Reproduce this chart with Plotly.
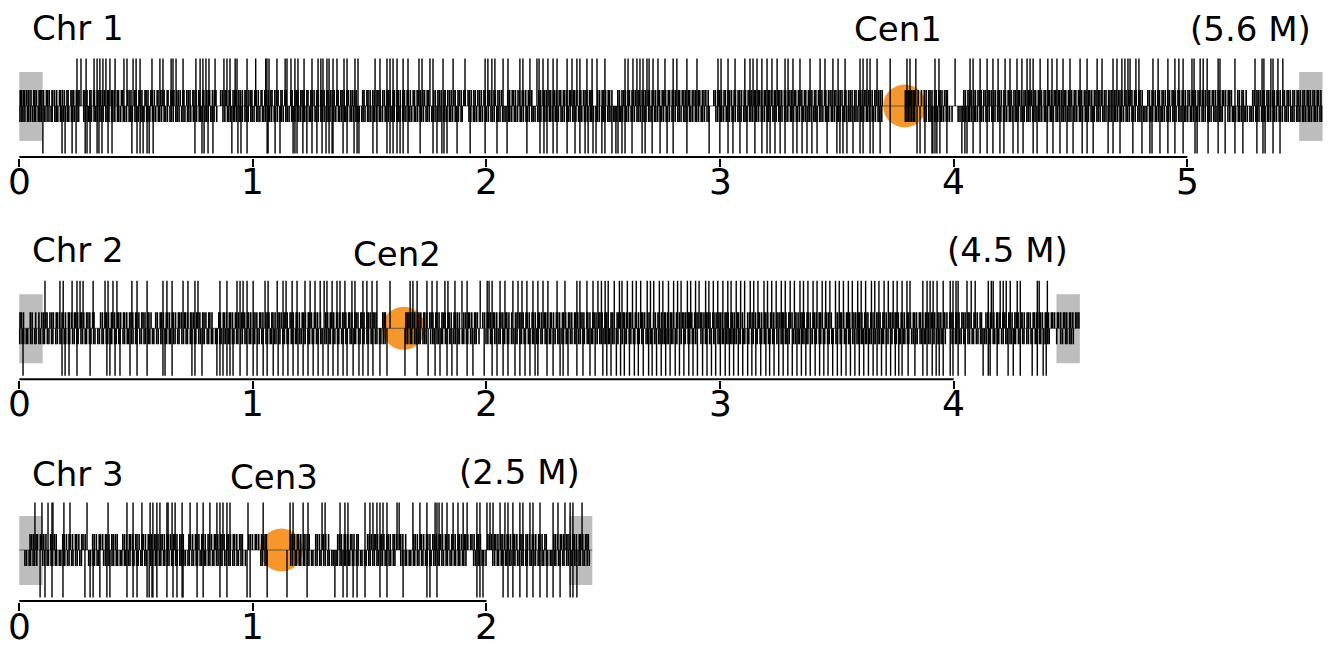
import plotly.graph_objects as go

# ---------------- data (positions in kb) ----------------
chrom_names = ["Chr 1", "Chr 2", "Chr 3"]
chrom_len_kb = [5579, 4540, 2453]
size_labels = ["(5.6 M)", "(4.5 M)", "(2.5 M)"]
cen_names = ["Cen1", "Cen2", "Cen3"]
cen_kb = [3790, 1645, 1122]
telomere_kb = 100
tick_vals = [[0, 1, 2, 3, 4, 5], [0, 1, 2, 3, 4], [0, 1, 2]]
tick_text = [["0", "1", "2", "3", "4", "5"], ["0", "1", "2", "3", "4"], ["0", "1", "2"]]

chr1_top_long = [247,264,286,320,333,345,358,371,388,410,448,461,487,500,517,568,602,615,650,658,671,701,756,774,786,799,812,838,876,889,902,924,932,975,1012,1055,1060,1069,1103,1138,1146,1163,1180,1193,
1219,1253,1279,1291,1300,1317,1326,1343,1360,1390,1403,1437,1450,1523,1544,1574,1587,1600,1617,1643,1664,1711,1724,1758,1771,1814,1857,1908,1994,2006,2023,2036,2071,2092,2143,2156,2186,2216,2225,2242,2263,2285,2302,2345,2366,2387,2400,2430,
2452,2473,2507,2593,2606,2627,2644,2657,2670,2687,2696,2713,2734,2764,2799,2815,2858,2901,2991,3004,3034,3064,3106,3128,3141,3158,3179,3201,3222,3244,3278,3291,3312,3342,3385,3428,3449,3483,3505,3535,3599,3612,3629,3642,3672,
3728,3800,3813,3838,3920,3937,4006,4070,4083,4113,4143,4168,4190,4220,4241,4271,4292,4314,4327,4340,4370,4403,4421,4442,4468,4498,4541,4571,4614,
4635,4682,4699,4720,4733,4746,4755,4780,4793,4853,4875,4917,4947,4964,4982,5020,5029,5055,5068,5085,5132,5140,5204,5290,5320,5328,5358,5367,5388,5409]

chr1_bot_long = [101,183,196,226,243,282,290,303,333,341,354,380,397,482,504,517,530,547,556,573,752,782,791,808,829,910,936,949,975,1061,1065,1095,1116,1172,1180,
1189,1214,1231,1253,1274,1296,1313,1326,1339,1343,1386,1403,1433,1446,1454,1514,1531,1574,1587,1600,1617,1630,1643,1664,1716,1771,1788,1809,1818,1831,1874,1930,1994,2045,2088,2173,2229,2246,2259,2285,2302,2345,2379,2400,2422,
2435,2456,2469,2494,2507,2537,2554,2563,2580,2593,2623,2666,2679,2709,2743,2773,2799,2858,2953,2999,3034,3055,3085,3115,3149,3179,3201,3214,3235,3257,3278,3312,3329,3351,3372,3393,3415,3458,3500,3513,3526,3543,3569,3599,3612,3642,3655,
3685,3728,3843,3856,3877,3907,3911,3920,3928,3941,3971,4035,4048,4057,4083,4113,4143,4168,4198,4215,4254,4275,4297,4340,4357,4400,4425,4455,4485,4511,4550,4571,4597,
4661,4682,4712,4767,4806,4840,4849,4883,4917,4947,4982,5033,5042,5089,5132,5162,5204,5238,5298,5324,5333,5367,5397]

chr1_top_short = [4,9,17,21,30,38,41,50,62,66,73,85,90,97,104,116,121,128,140,143,151,160,172,177,185,193,204,209,221,226,233,244,251,256,
275,281,290,302,307,318,322,334,341,349,357,366,378,383,395,400,407,419,425,437,443,
463,470,478,494,500,512,517,525,538,543,551,563,569,578,590,594,606,613,620,633,637,649,655,662,674,681,689,700,705,717,724,731,743,748,757,768,773,785,790,802,809,815,827,835,842,
862,870,881,886,898,903,915,922,928,940,947,955,966,971,983,991,996,1008,1014,1023,1035,1039,1051,1057,1066,1077,1082,1094,1101,1108,1120,1125,1137,1143,
1162,1168,1180,1187,1193,1205,1211,1219,1231,1236,1248,1254,1262,1273,1279,1290,1296,1305,1316,1322,1333,1340,1348,1359,1365,1376,1382,1391,1402,1409,1419,1426,1434,1442,
1470,1476,1488,1493,1502,1513,1520,1531,1536,1545,1556,1563,1574,1580,1588,1600,1606,1617,1622,1631,1642,1649,1660,1665,1674,1686,1692,1703,1709,1717,1728,1735,1746,1752,
1774,1781,1792,1798,1806,1818,1823,1834,1841,1849,1860,1866,1878,1884,1892,1903,1909,1921,1927,1935,1946,1952,1963,1970,1978,1989,1995,2006,2013,2021,2032,2038,2049,2056,2065,
2091,2099,2110,2116,2124,2135,2142,2153,2159,2168,2179,2185,2194,
2224,2232,2243,2249,2257,2268,2275,2286,2292,2300,2311,2318,2329,2335,2344,2355,2361,2372,2378,2387,2398,2404,2415,2422,2430,2441,2447,2453,
2476,2484,2495,2501,2510,2521,2527,2537,
2562,2569,2580,2587,2595,2606,2612,2623,2630,2638,2649,2655,2666,2673,2681,2692,2698,2709,2716,2724,2735,2741,2752,2759,2767,2778,2784,2795,2802,2810,2821,2827,2838,2845,2853,2864,2870,2881,2888,2896,2907,2913,2924,2931,2939,2949,
2973,2980,2991,2998,3006,3017,3023,3034,3041,3049,3060,3066,3077,3084,3092,3103,3109,3120,3127,3135,3146,3152,3163,3170,3178,3189,3195,3206,3213,3221,3232,3238,3249,3256,3264,3275,3281,3292,3299,3307,3318,3324,3335,3342,3350,3361,3367,3378,3385,3393,3404,3410,3421,3428,3436,3447,3453,3464,3471,3479,3490,3496,3507,3514,3522,3533,3539,3550,3557,3565,3576,3582,3593,3600,3608,3619,3625,3636,3643,3651,3662,3668,3679,3686,3694,
3793,3799,3806,3812,3819,3826,3832,3848,3862,3874,3882,3893,3899,3907,3918,3925,3936,3942,3950,3961,3968,3973,
4043,4050,4061,4067,4075,4086,4093,4104,4110,4118,4129,4136,4147,4153,4161,4172,4179,4190,4196,4204,4215,4222,4233,4239,4247,4258,4265,4276,4282,4290,4301,4308,4319,4325,4333,4344,4351,4362,4368,4376,4387,4394,4405,4411,4419,4430,4437,4448,4454,4462,4473,4480,4491,4497,4505,4516,4523,4534,4540,4548,4559,4566,4577,4583,4591,4602,4609,4620,4626,4634,4645,4652,4663,4669,4677,4688,4695,4706,4712,4720,4731,4738,4749,4755,4763,4774,4781,4792,4798,4807,
4831,4838,4849,4855,4863,4874,4881,4892,4898,4906,4917,4924,4935,4941,4949,4960,4967,4978,4984,4992,5003,5010,5021,5027,5035,5046,5053,5064,5070,5078,5089,5096,5107,5113,5121,5132,5139,5150,5156,5164,5175,5182,5189,
5216,5223,5234,5240,5252,
5280,5287,5298,5304,5312,5323,5330,5341,5347,5355,5366,5373,5384,5390,5398,5409,5416,5427,5433,5441,5452,5459,5470,5476,5484,5495,5502,5513,5519,5527,5538,5545,5556,5562,5572]

chr1_bot_short = [3,11,16,24,35,40,48,57,65,70,81,88,94,106,110,119,127,136,141,152,158,165,176,180,189,198,206,212,223,229,236,247,254,
276,284,295,301,309,320,326,334,345,351,359,370,376,384,395,401,409,420,426,434,445,451,459,470,476,484,495,501,509,520,526,534,545,551,559,570,576,584,595,601,609,620,626,634,645,651,659,670,676,684,695,701,709,720,726,734,745,751,759,770,776,784,795,801,809,820,826,834,845,
872,880,891,897,905,916,922,930,941,947,955,966,972,980,991,997,1005,1016,1022,1030,1041,1047,1055,1066,1072,1080,1091,1097,1105,1116,1122,1130,1141,1147,1155,1166,1172,1180,1191,1197,1205,1216,1222,1230,1241,1247,1255,1266,1272,1280,1291,1297,1305,1316,1322,1330,1341,1347,1355,1366,1372,1380,1391,1397,1405,1416,1422,1430,1441,1447,1455,1466,1472,1480,1491,1497,1505,1516,1522,1530,1541,1547,1555,1566,1572,1580,1591,1597,1605,1616,1622,1630,1641,1647,1655,1666,1672,1680,1691,1697,1705,1716,1722,1730,1741,1747,1755,1766,1772,1780,1791,1797,1805,1816,1822,1830,1841,1847,1855,1866,1872,1880,1891,1896,
1925,1933,1944,1950,1958,1969,1975,1983,1994,2000,2008,2019,2025,2033,2044,2050,2058,2069,2075,2083,2094,2100,2108,2119,2125,2133,2144,2150,2158,2169,2175,2183,2194,2200,2208,2219,2225,2233,2244,2250,2258,2269,2275,2283,2294,2300,2308,2319,2325,2333,2344,2350,2358,2369,2375,2383,2394,2400,2408,2419,2425,2433,2444,2450,2458,2469,2475,2483,2494,2500,2508,2519,2525,2533,2544,2550,2558,2569,2575,2583,2594,2600,2608,2619,2625,2633,2644,2650,2658,2669,2675,2683,2694,2700,2708,2719,2725,2733,2744,2750,2758,2769,2775,2783,2794,2800,2808,2819,2825,2833,2844,2850,2858,2869,2875,2883,2894,2900,2908,2919,2925,2933,2944,2952,
2982,2990,3001,3007,3015,3026,3032,3040,3051,3057,3065,3076,3082,3090,3101,3107,3115,3126,3132,3140,3151,3157,3165,3176,3182,3190,3201,3207,3215,3226,3232,3240,3251,3257,3265,3276,3282,3290,3301,3307,3315,3326,3332,3340,3351,3357,3365,3376,3382,3390,3401,3407,3415,3426,3432,3440,3451,3457,3465,3476,3482,3490,3501,3507,3515,3526,3532,3540,3551,3557,3565,3576,3582,3590,3601,3607,3615,3626,3632,3640,3651,3657,3665,3676,3682,3692,
3793,3800,3806,3813,3820,3827,3833,3874,3882,3893,3899,3907,3918,3924,3932,3943,3949,3957,3968,3974,3982,3993,
4019,4027,4038,4044,4052,4063,4069,4077,4088,4094,4102,4113,4119,4127,4138,4144,4152,4163,4169,4177,4188,4194,4202,4213,4219,4227,4238,4244,4252,4263,4269,4277,4288,4294,4302,4313,4319,4327,4338,4344,4352,4363,4369,4377,4388,4394,4402,4413,4419,4427,4438,4444,4452,4463,4469,4477,4488,4494,4502,4513,4519,4527,4538,4544,4552,4563,4569,4577,4588,4594,4602,4613,4619,4627,4638,4644,4652,4663,4669,4677,4688,4694,4702,4713,4719,4727,4738,4744,4752,4763,4769,4777,4788,4794,4802,4813,4819,4827,4838,4844,4852,4863,4869,4877,4888,4894,4902,4913,4919,4927,4938,4944,4952,4963,4969,4977,4988,4994,5002,5013,5019,5027,5038,5044,5052,5063,5069,5077,5088,5094,5102,5113,5119,5127,5138,5144,5150,
5174,5182,5193,5199,5207,5218,5224,5232,5243,5249,5257,5268,5274,5282,5293,5299,5307,5318,5324,5332,5343,5349,5357,5368,5374,5382,5393,5399,5407,5418,5424,5432,5443,5449,5457,5468,5474,5482,5493,5499,5507,5518,5524,5532,5543,5549,5557,5568,5575]

chr2_top_long = [110,174,188,226,247,260,273,316,367,380,401,418,482,504,547,615,632,654,701,722,752,765,859,889,932,945,958,975,1001,1052,1065,1104,1129,1142,1168,1189,
1223,1245,1266,1288,1305,1317,1339,1360,1373,1394,1424,1437,1471,1488,1510,1531,1587,1673,1685,1703,1745,1767,1788,1822,1835,1865,1895,1917,1973,2003,2011,2024,2058,2079,2113,2135,2152,2173,2199,2220,2242,2263,2302,2336,2387,2400,2430,2456,2477,
2492,2508,2521,2547,2569,2580,2603,2625,2641,2660,2688,2702,2716,2740,2755,2779,2801,2818,2833,2860,2874,2895,2910,2938,2952,2971,2990,3012,3033,3047,3069,3088,3105,3129,3144,3162,3188,3203,3221,3240,3262,3279,3300,3318,3342,3357,3376,3398,3415,3437,3452,3470,3494,3510,3528,3549,3566,3589,3604,3623,3648,3662,3680,3702,3720,3741,3758,
3779,3800,3813,3868,3886,3899,3912,3929,3955,3985,3997,4010,4019,4057,4075,4092,4148,4161,4169,4199,4212,4225,4242,4272,4285,4358,4366,4401]

chr2_bot_long = [16,183,196,213,247,303,375,388,410,431,474,504,547,615,624,654,739,752,782,846,859,872,889,902,915,945,975,1001,1018,1044,1061,1087,1108,1129,1150,1172,1193,
1215,1236,1258,1279,1300,1322,1343,1364,1386,1403,1429,1454,1471,1493,1514,1544,1574,1651,1703,1750,1780,1801,1831,1852,1874,1917,1942,1990,2024,2045,2071,2092,2122,2143,2165,2186,2208,2220,2259,2285,2315,2328,2349,2387,2413,2443,2465,
2498,2515,2533,2556,2574,2590,2612,2633,2650,2671,2694,2709,2728,2748,2767,2786,2808,2826,2845,2866,2884,2903,2925,2944,2963,2981,3001,3022,3040,3058,3078,3097,3118,3136,3153,3174,3196,3212,3231,3251,3270,3290,3309,3329,3348,3367,3386,3407,3426,3444,3462,3482,3502,3519,3539,3558,3577,3596,3615,3635,3655,3672,3691,3711,3730,3750,3765,
3779,3805,3834,3868,3886,3908,3925,3938,3955,3985,3997,4019,4049,4126,4148,4156,4186,4233,4255,4285,4336,4358,4383,4396]

chr2_top_short = [3,9,18,47,55,70,84,96,104,113,119,131,139,146,158,163,172,183,189,198,210,215,224,236,242,250,262,267,276,288,294,302,314,320,
348,356,367,373,382,394,399,408,420,426,434,446,451,460,472,478,486,498,503,512,524,530,538,550,555,564,
584,591,603,608,617,629,635,643,655,660,669,681,687,695,707,712,721,733,739,747,759,764,773,785,791,799,811,816,825,
854,861,873,878,887,899,905,913,925,930,939,951,957,965,977,982,991,1003,1009,1017,1029,1034,1043,1055,1061,1069,1081,1086,1095,1107,1113,1121,1133,1138,1147,1159,1165,1173,1185,1190,1199,1211,1217,1225,1237,1242,1251,1263,1269,1277,1289,
1312,1320,1331,1337,1346,1358,1363,1372,1384,1390,1398,1410,1415,1424,1436,1442,1450,1462,1467,1476,1488,1494,1502,1514,1519,1527,
1556,1562,1567,1655,1661,1668,1676,1684,1693,1705,1711,1719,1731,1736,1745,1757,1763,1771,1783,1788,1797,1809,1815,1823,1835,1840,1849,1861,1867,1875,1884,
1903,1911,1922,1928,1937,1949,1954,1961,
1984,1992,2003,2009,2018,2030,2035,2044,2056,2062,2070,2082,2087,2096,2108,
2124,2131,2142,2148,2157,2169,2174,2183,2195,2201,2209,2221,2226,2235,2247,2253,2261,2273,2278,2287,2299,2305,2313,2325,2330,2339,2351,2357,2365,2377,2382,2391,2403,2409,2417,2429,2434,2443,2455,2461,2469,2481,2486,2495,2507,2513,2521,2533,2538,2547,2559,2565,2573,2585,2590,2599,2611,2617,2625,2637,2642,2651,2663,2669,2677,2689,2696,
2715,2723,2734,2740,2749,2761,2766,2775,2787,2793,2801,2813,2818,2827,2839,2845,2853,2865,2870,2879,2891,2897,2905,2917,2922,2931,2943,2949,2957,2969,2974,2983,2995,3001,3009,3021,3026,3035,3047,3053,3061,3073,3078,3087,3096,
3118,3126,3137,3143,3152,3164,3169,3178,3190,3196,3204,3216,3221,3230,3242,3248,3256,3268,3273,3282,3294,3300,3308,3320,3325,3334,3346,3352,3360,3372,3377,3386,3398,3404,3412,3424,3429,3438,3450,3456,3464,3476,
3495,3503,3514,3520,3529,3541,3546,3555,3567,3573,3581,3593,3598,3607,3619,3625,3633,3645,3650,3659,3671,3677,3685,3697,3702,3711,3723,3729,3737,3749,3754,3763,3775,3781,3789,3801,3806,3815,3827,3833,3841,3853,3858,3867,3879,3885,3893,3905,3910,3919,3931,3937,3945,3957,3962,3971,3983,3989,3997,4009,4014,4023,4035,4041,4049,4061,4066,4075,4087,4093,4101,4113,4119,
4138,4146,4157,4163,4172,4184,4189,4198,4210,4216,4224,4236,4241,4250,4262,4268,4276,4288,4293,4302,4314,4320,4328,4340,4345,4354,4366,4372,4380,4392,4397,4406,4418,4424,4432,4444,4449,4458,4470,4476,4484,4496,4501,4510,4522,4528,4536]

chr2_bot_short = [2,12,19,30,36,48,55,66,72,84,91,102,108,120,127,138,144,156,163,174,180,192,199,210,216,228,235,246,252,264,271,282,288,300,307,318,324,336,343,354,360,372,379,390,396,408,415,426,432,444,451,462,468,480,487,498,504,516,523,534,540,552,559,570,576,588,595,606,612,624,631,642,648,660,667,678,684,696,703,714,720,732,739,750,756,768,775,786,792,804,811,822,828,840,847,858,864,876,883,894,900,912,919,930,936,948,955,966,972,984,991,1002,1008,1020,1027,1038,1044,1056,1063,1074,1080,1092,1099,1110,1116,1128,1135,1146,1152,1164,1171,1182,1188,1200,1207,1218,1224,1236,1243,1254,1260,1272,1279,1290,1296,1308,1315,1326,1332,1344,1351,1362,1368,1380,1387,1398,1404,1416,1423,1434,1440,1452,1459,1470,1476,1488,1495,1506,1512,1524,1531,1542,1548,1558,1566,
1655,1663,1674,1680,1692,1699,1710,1716,1728,1735,1742,
1761,1770,1776,1788,1795,1806,1812,1824,1831,1842,1848,1860,1867,1878,1884,1896,1903,1914,1920,1932,1939,1950,1956,1968,
1998,2006,2017,2023,2035,2042,2053,2059,2071,2078,2089,2095,2107,2114,2125,2131,2143,2150,2161,2167,2179,2186,2197,2203,2215,2222,2233,2239,2251,2258,2269,2275,2287,2294,2305,2311,2323,2330,2341,2347,2359,2366,2377,2383,2395,2402,2413,2419,2431,2438,2449,2455,2467,2474,2485,2491,2503,2510,2521,2527,2539,2546,2557,2563,2575,2582,2593,2599,2611,2618,2629,2635,2647,2654,2665,2671,2683,2690,2701,2707,2719,2726,2737,2743,2755,2762,2773,2779,2791,2798,2809,2815,2827,2834,2845,2851,2863,2870,2881,2887,2896,
2918,2926,2937,2943,2955,2962,2973,2979,2991,2998,3009,3015,3027,3034,3045,3051,3063,3070,3081,3087,3099,3106,3117,3123,3135,3142,3153,3159,3171,3178,3189,3195,3207,3214,3225,3231,3243,3250,3261,3267,3279,3286,3296,
3315,3323,3334,3340,3352,3359,3370,3376,3388,3395,3406,3412,3424,3431,3442,3448,3460,3467,3478,3484,3496,3503,3514,3520,3532,3539,3550,3556,3568,3575,3586,3592,3604,3611,3622,3628,3640,3647,3658,3664,3676,3683,3694,3700,3712,3719,3730,3736,3748,3755,3766,3772,3784,3791,3802,3808,3820,3827,3838,3844,3856,3863,3874,3880,3892,3899,3910,3916,3928,3935,3946,3952,3964,
3988,3996,4007,4013,4025,4032,4043,4049,4061,4068,4079,4085,4097,4104,4115,4121,4133,4140,4151,4157,4169,4176,4187,4193,4205,4212,4223,4229,4241,4248,4259,4265,4277,4284,4295,4301,4313,4320,4331,4337,4349,4356,4367,4373,4385,4392,4403,4409,
4441,4458,4466,4479,4485,4496,4503,4512]

chr3_top_long = [67,97,123,140,144,191,217,290,380,461,487,525,560,572,589,602,632,637,654,667,697,731,761,787,816,846,859,872,889,902,979,1044,1159,1172,
1215,1236,1296,1309,1373,1394,1407,1480,1501,1514,1531,1544,1557,1574,1617,1626,1685,1715,1745,1780,1788,1797,1810,1831,1857,1878,1900,1917,1959,1972,2002,2015,2028,2058,2079,2092,2113,2143,2156,2186,2199,2229,2285,2306,2336,2358,2370,2409]

chr3_bot_long = [89,110,140,187,281,303,316,345,375,388,461,487,504,547,556,568,572,589,632,658,675,697,701,761,787,859,889,975,988,1061,1146,
1232,1351,1386,1403,1429,1446,1480,1544,1574,1643,1745,1758,1788,1959,1972,1985,2071,2092,2113,2143,2173,2199,2229,2259,2285,2315,2358,2370,2387]

chr3_top_short = [46,53,61,72,78,90,96,105,114,
134,141,150,158,
186,193,202,213,219,228,240,246,255,267,273,282,
314,321,330,342,348,357,369,375,384,396,402,411,419,
443,450,459,471,477,486,498,504,513,525,531,540,552,558,567,579,585,594,606,612,621,633,639,648,660,666,675,687,693,702,
726,733,742,754,760,769,781,787,796,808,814,823,835,841,850,862,868,877,889,895,904,916,922,931,943,949,955,
982,989,998,1010,1016,1025,1037,1043,1052,1058,
1162,1169,1178,1190,1196,1205,1217,1223,1232,1241,
1269,1276,1285,1297,1303,1312,1324,
1363,1370,1379,1391,1397,1406,1418,1424,1433,1445,1451,
1491,1498,1507,1519,1525,1534,1546,1552,1561,1573,1579,1588,1600,1606,1615,1627,1633,1642,1654,
1688,1695,1704,1716,1722,1731,1743,1749,1758,1770,1776,1785,1797,1803,1812,1824,1830,1839,1851,1857,1866,1878,1884,1893,1905,1911,1920,1932,1938,1947,1959,1965,1974,
2006,2013,2022,2034,2040,2049,2061,2067,2076,2088,2094,2103,2115,2121,2130,2142,2148,2157,2169,2175,2184,2196,2202,2211,2223,2229,2238,2250,2256,
2288,2295,2304,2316,2322,2331,2343,2349,2358,2370,2376,2385,2397,2403,2412,2424,2430,2436]

chr3_bot_short = [24,31,42,48,59,66,75,
100,108,119,125,136,143,154,160,171,178,189,195,206,213,224,230,241,248,259,266,
297,305,316,322,333,340,
361,369,380,386,397,404,415,421,432,439,450,456,467,474,485,491,502,509,520,526,537,543,
563,571,582,588,599,606,617,623,634,641,652,658,669,676,687,693,704,711,722,728,739,746,757,763,774,781,792,798,809,816,827,833,844,851,862,868,879,886,897,903,914,921,932,938,949,956,968,
1034,1041,1052,1060,
1162,1170,1181,1187,1198,1205,1216,1222,1233,1240,1251,1257,1268,1275,1286,1292,1303,1310,1321,1327,1338,1345,1356,1362,1373,1380,1391,1397,1408,1415,1426,1432,1443,1450,1461,1467,1478,1485,1496,1502,1513,1520,1531,1537,1548,1555,1566,1572,1583,1590,1601,1608,
1633,1641,1652,1658,1669,1676,1687,1693,1704,1711,1722,1728,1739,1746,1757,1763,1774,1781,1792,1798,1809,1816,1827,1833,1844,1851,1862,1868,1879,1886,1897,1903,1912,
1945,1953,1964,1970,1981,1988,1998,
2027,2035,2046,2052,2063,2070,2081,2087,2098,2105,2116,2122,2133,2140,2151,2157,2168,2175,2186,2192,2203,2210,2221,2227,2238,2245,2256,2262,2273,2280,2291,2297,2308,2315,2326,2332,2343,2350,2361,2367,2378,2385,2396,2402,2413,2420,2431,2440]

top_long = [chr1_top_long, chr2_top_long, chr3_top_long]
bot_long = [chr1_bot_long, chr2_bot_long, chr3_bot_long]
top_short = [chr1_top_short, chr2_top_short, chr3_top_short]
bot_short = [chr1_bot_short, chr2_bot_short, chr3_bot_short]

# ---------------- styling ----------------
W, H = 1336, 646
FONT = "DejaVu Sans"
row_center_px = [106, 328.3, 550]
Y_LO, Y_HI = -52, 50          # y units = pixels relative to chromosome centre line
LONG_H, SHORT_H, BOX_H = 47.5, 16, 35
X_RANGE = [-0.0826, 5.6366]
LINE_COL = "black"
ORANGE = "#F7962B"
GREY = "#BDBDBD"
# label vertical centres (px from top) per row: chrom name, centromere, size
name_px = [28, 250, 474]
cen_px = [29, 254, 477]
size_px = [29, 250, 472]
ticklab_px = [181, 403, 626]


def segs(vals_kb, y0, y1):
    xs, ys = [], []
    for v in vals_kb:
        m = v / 1000.0
        xs += [m, m, None]
        ys += [y0, y1, None]
    return xs, ys


def py(px):
    return 1 - px / H


fig = go.Figure()
annotations = []
layout_axes = {}

for i in range(3):
    sfx = "" if i == 0 else str(i + 1)
    xa, ya = "x" + sfx, "y" + sfx
    L = chrom_len_kb[i] / 1000.0
    T = telomere_kb / 1000.0
    c = cen_kb[i] / 1000.0

    # telomere boxes
    for (a, b) in [(0.0, T), (L - T, L)]:
        fig.add_trace(go.Scatter(x=[a, b, b, a, a], y=[-BOX_H, -BOX_H, BOX_H - 1, BOX_H - 1, -BOX_H],
                                 fill="toself", fillcolor=GREY, mode="lines", line=dict(width=0, color=GREY),
                                 xaxis=xa, yaxis=ya, hoverinfo="skip"))
    # centromere
    fig.add_trace(go.Scatter(x=[c], y=[0], mode="markers",
                             marker=dict(size=43, color=ORANGE, line=dict(width=0)),
                             xaxis=xa, yaxis=ya, hoverinfo="skip"))
    # centre line
    fig.add_trace(go.Scatter(x=[0, L], y=[0, 0], mode="lines", line=dict(color="#444444", width=0.8),
                             xaxis=xa, yaxis=ya, hoverinfo="skip"))
    # insertion lines
    for vals, y1, w in [(top_short[i], SHORT_H, 1.6), (bot_short[i], -SHORT_H, 1.6),
                        (top_long[i], LONG_H, 1.4), (bot_long[i], -LONG_H, 1.4)]:
        xs, ys = segs(vals, 0, y1)
        fig.add_trace(go.Scatter(x=xs, y=ys, mode="lines", line=dict(color=LINE_COL, width=w),
                                 xaxis=xa, yaxis=ya, hoverinfo="skip"))
    # axis line from first to last tick
    fig.add_trace(go.Scatter(x=[tick_vals[i][0], tick_vals[i][-1]], y=[Y_LO, Y_LO], mode="lines",
                             line=dict(color="black", width=4), xaxis=xa, yaxis=ya, hoverinfo="skip"))

    cpx = row_center_px[i]
    dom = [py(cpx - Y_LO), py(cpx - Y_HI)]
    layout_axes["xaxis" + sfx] = dict(domain=[0, 1], range=X_RANGE, anchor=ya, tickmode="array",
                                      tickvals=tick_vals[i], ticks="outside", showticklabels=False,
                                      ticklen=8, tickwidth=2, tickcolor="black", showline=False,
                                      showgrid=False, zeroline=False, automargin=False)
    layout_axes["yaxis" + sfx] = dict(domain=dom, range=[Y_LO, Y_HI], visible=False,
                                      fixedrange=True, automargin=False)

    tfont = dict(family=FONT, size=34, color="black")
    for tv, tt in zip(tick_vals[i], tick_text[i]):
        annotations.append(dict(text=tt, x=tv, y=py(ticklab_px[i]), xref=xa, yref="paper",
                                xanchor="center", yanchor="middle", showarrow=False,
                                font=dict(family=FONT, size=36, color="black")))
    annotations.append(dict(text=chrom_names[i], x=0.046, y=py(name_px[i]), xref=xa, yref="paper",
                            xanchor="left", yanchor="middle", showarrow=False, font=tfont))
    annotations.append(dict(text=cen_names[i], x=c, y=py(cen_px[i]), xref=xa, yref="paper",
                            xanchor="center", xshift=-7, yanchor="middle", showarrow=False, font=tfont))
    annotations.append(dict(text=size_labels[i], x=L, y=py(size_px[i]), xref=xa, yref="paper",
                            xanchor="right", xshift=-10, yanchor="middle", showarrow=False, font=tfont))

fig.update_layout(width=W, height=H, margin=dict(l=0, r=0, t=0, b=0), showlegend=False,
                  plot_bgcolor="white", paper_bgcolor="white", annotations=annotations, **layout_axes)

fig.write_html("out.html", config={"displayModeBar": False},
               post_script="document.body.style.margin='0px';document.body.style.overflow='hidden';")
